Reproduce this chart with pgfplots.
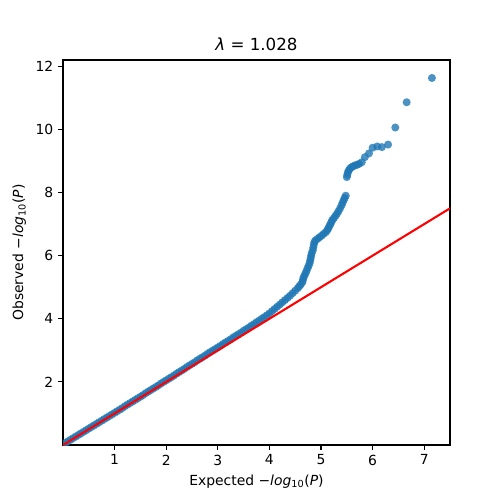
\documentclass[border=0pt]{standalone}
\usepackage{fontspec}
\setmainfont{DejaVu Sans}
\usepackage{pgfplots}
\pgfplotsset{compat=1.18}
\definecolor{mplblue}{HTML}{1F77B4}
\begin{document}
\begin{tikzpicture}
\begin{axis}[
  scale only axis,
  width=278.64pt, height=277.2pt,
  xmin=0, xmax=7.5, ymin=0, ymax=12.2,
  xtick={1,2,3,4,5,6,7},
  ytick={2,4,6,8,10,12},
  tick pos=left,
  tick align=outside,
  major tick length=3.5pt,
  tick style={black, line width=0.8pt},
  axis line style={line width=0.8pt},
  /pgf/number format/assume math mode=true,
  ticklabel style={font=\fontsize{10}{12}\selectfont},
  title={\textit{λ} = 1.028},
  title style={font=\fontsize{12}{14}\selectfont, yshift=-3pt},
  xlabel={Expected −\textit{log}\textsubscript{10}(\textit{P})},
  ylabel={Observed −\textit{log}\textsubscript{10}(\textit{P})},
  label style={font=\fontsize{10}{12}\selectfont},
  clip=true,
  clip marker paths=true,
]
\addplot[only marks, mark=*, mark size=2.9pt, color=mplblue, mark options={solid, draw=mplblue, fill=mplblue, draw opacity=0, fill opacity=0.8}] coordinates {
(0.00,0.02)(0.05,0.07)(0.10,0.12)(0.15,0.17)(0.20,0.22)(0.25,0.27)(0.30,0.32)(0.35,0.37)(0.40,0.42)(0.45,0.47)
(0.50,0.52)(0.55,0.57)(0.60,0.62)(0.65,0.67)(0.70,0.72)(0.75,0.77)(0.80,0.82)(0.85,0.87)(0.90,0.92)(0.95,0.97)
(1.00,1.02)(1.05,1.07)(1.10,1.12)(1.15,1.17)(1.20,1.23)(1.25,1.28)(1.30,1.33)(1.35,1.38)(1.40,1.43)(1.45,1.48)
(1.50,1.53)(1.55,1.58)(1.60,1.64)(1.65,1.69)(1.70,1.74)(1.75,1.79)(1.80,1.84)(1.85,1.89)(1.90,1.95)(1.95,2.00)
(2.00,2.05)(2.05,2.10)(2.10,2.15)(2.15,2.20)(2.20,2.26)(2.25,2.31)(2.30,2.36)(2.35,2.41)(2.40,2.47)(2.45,2.52)
(2.50,2.57)(2.55,2.62)(2.60,2.68)(2.65,2.73)(2.70,2.78)(2.75,2.83)(2.80,2.89)(2.85,2.94)(2.90,2.99)(2.95,3.04)
(3.00,3.09)(3.05,3.14)(3.10,3.20)(3.15,3.25)(3.20,3.30)(3.25,3.35)(3.30,3.41)(3.35,3.46)(3.40,3.51)(3.45,3.56)
(3.50,3.62)(3.55,3.67)(3.60,3.72)(3.65,3.78)(3.70,3.83)(3.75,3.89)(3.80,3.94)(3.85,4.00)(3.90,4.05)(3.95,4.11)
(4.00,4.17)(4.05,4.24)(4.10,4.31)(4.15,4.38)(4.20,4.45)(4.25,4.52)(4.30,4.59)(4.35,4.66)(4.40,4.73)(4.45,4.81)
(4.50,4.89)(4.55,4.97)(4.58,5.03)(4.61,5.09)(4.64,5.16)(4.65,5.23)(4.66,5.30)(4.68,5.37)(4.70,5.44)(4.72,5.52)(4.74,5.60)
(4.76,5.68)(4.78,5.76)(4.79,5.84)(4.80,5.92)(4.81,6.00)(4.82,6.08)(4.84,6.16)(4.85,6.25)(4.86,6.34)(4.87,6.42)
(4.89,6.48)(4.93,6.53)(4.97,6.58)(5.01,6.63)(5.05,6.69)(5.09,6.74)(5.12,6.80)(5.14,6.86)(5.16,6.93)(5.18,6.99)
(5.20,7.06)(5.22,7.13)(5.25,7.19)(5.28,7.26)(5.31,7.33)(5.34,7.41)(5.37,7.50)(5.40,7.60)(5.42,7.68)(5.44,7.76)
(5.46,7.83)(5.48,7.90)
(5.50,8.49)(5.51,8.56)(5.52,8.64)(5.54,8.70)(5.56,8.76)(5.59,8.80)(5.62,8.83)(5.66,8.86)(5.70,8.88)(5.74,8.91)
(5.79,8.96)(5.85,9.12)(5.93,9.24)(6.00,9.42)(6.09,9.46)(6.18,9.44)(6.30,9.52)(6.44,10.06)(6.66,10.86)(7.15,11.63)
};
\addplot[red, line width=1.5pt] coordinates {(0,0)(7.5,7.5)};
\end{axis}
\useasboundingbox ([shift={(-45.36pt,-39.6pt)}]current axis.south west) rectangle ([shift={(36pt,43.2pt)}]current axis.north east);
\end{tikzpicture}
\end{document}
